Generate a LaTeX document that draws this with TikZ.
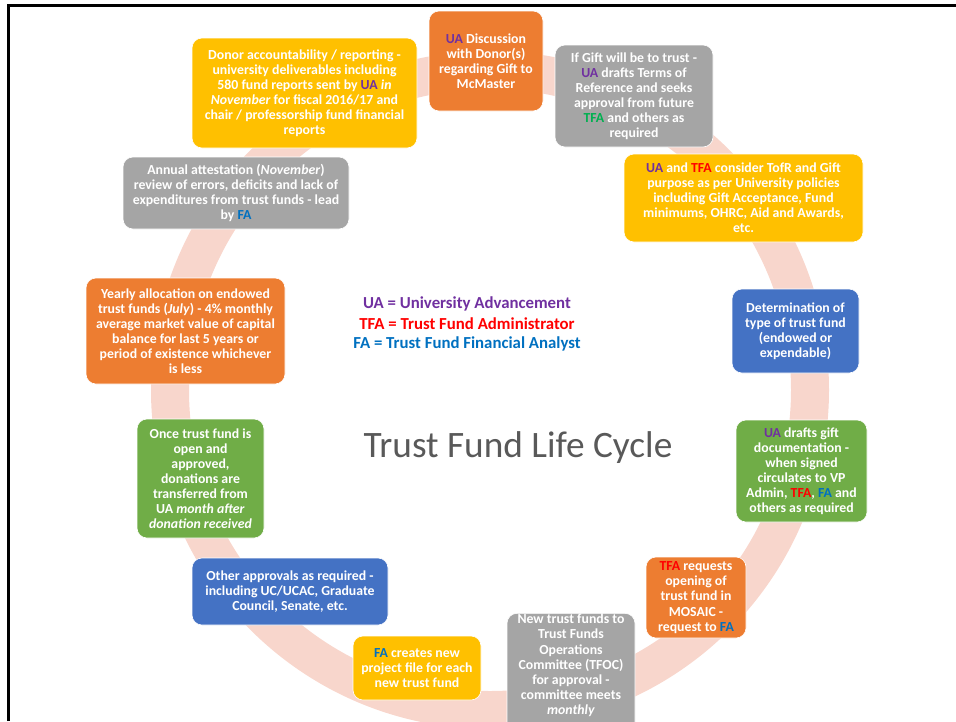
\documentclass[tikz,border=0pt]{standalone}
\usepackage{fontspec}
\setmainfont{Carlito}

\definecolor{ringpink}{HTML}{F8D6CC}
\definecolor{boxorange}{HTML}{ED7D31}
\definecolor{boxyellow}{HTML}{FFC000}
\definecolor{boxgrey}{HTML}{A5A5A5}
\definecolor{boxblue}{HTML}{4472C4}
\definecolor{boxgreen}{HTML}{70AD47}
\definecolor{uapurple}{HTML}{7030A0}
\definecolor{tfared}{HTML}{FF0000}
\definecolor{tfagreen}{HTML}{00B050}
\definecolor{fablue}{HTML}{0070C0}
\definecolor{titlegrey}{HTML}{595959}

% role abbreviations in their colours
\newcommand\kUA{\textcolor{uapurple}{UA}}
\newcommand\kTFA{\textcolor{tfared}{TFA}}
\newcommand\kFA{\textcolor{fablue}{FA}}

\begin{document}
\begin{tikzpicture}[x=1pt,y=-1pt,
  box/.style={rounded corners=10pt, inner sep=0pt, text=white, align=center,
    draw=white, line width=0.6pt,
    font=\fontsize{13.8}{15.1}\selectfont\bfseries},
  size/.style 2 args={minimum width=#1pt, minimum height=#2pt},
  legend/.style={inner sep=0pt, anchor=base, font=\fontsize{16.8}{19}\selectfont\bfseries}]
\useasboundingbox (0,0) rectangle (956,721);
\clip (0,0) rectangle (956,721);

% the cycle ring behind the steps
\draw[ringpink, line width=38pt] (490,390) circle[radius=320pt];

% steps of the cycle
\node[box, fill=boxorange, size={114}{100}] (disc) at (486,61)
  {\kUA{} Discussion\\with Donor(s)\\regarding Gift to\\McMaster};
\node[box, fill=boxgrey, size={158}{102}] (tofr) at (634,96)
  {If Gift will be to trust -\\\kUA{} drafts Terms of\\Reference and seeks\\approval from future\\\textcolor{tfagreen}{TFA} and others as\\required};
\node[box, fill=boxyellow, size={239}{88}] (consider) at (743.5,198)
  {\kUA{} and \kTFA{} consider TofR and Gift\\purpose as per University policies\\including Gift Acceptance, Fund\\minimums, OHRC, Aid and Awards,\\etc.};
\node[box, fill=boxblue, size={127}{84}] (determ) at (795.5,331)
  {Determination of\\type of trust fund\\(endowed or\\expendable)};
\node[box, fill=boxgreen, size={131}{102}] (drafts) at (801.5,471)
  {\kUA{} drafts gift\\documentation -\\when signed\\circulates to VP\\Admin, \kTFA, \kFA{} and\\others as required};
\node[box, fill=boxorange, size={100}{81}] (request) at (696,597.5)
  {\kTFA{} requests\\opening of\\trust fund in\\MOSAIC -\\request to \kFA};
\node[box, fill=boxgrey, size={128}{122}, anchor=north] (newtf) at (571,613)
  {New trust funds to\\Trust Funds\\Operations\\Committee (TFOC)\\for approval -\\committee meets\\\textit{monthly}\\[5pt]};
\node[box, fill=boxyellow, size={128}{64}] (creates) at (417,668)
  {\kFA{} creates new\\project file for each\\new trust fund};
\node[box, fill=boxblue, size={196}{67}] (other) at (290,591.5)
  {Other approvals as required -\\including UC/UCAC, Graduate\\Council, Senate, etc.};
\node[box, fill=boxgreen, size={127}{119}] (once) at (200.5,478.5)
  {Once trust fund is\\open and\\approved,\\donations are\\transferred from\\UA \textit{month after}\\\textit{donation received}};
\node[box, fill=boxorange, size={199}{106}] (yearly) at (185.5,331)
  {Yearly allocation on endowed\\trust funds (\textit{July}) - 4\% monthly\\average market value of capital\\balance for last 5 years or\\period of existence whichever\\is less};
\node[box, fill=boxgrey, size={226}{72}] (attest) at (236,193)
  {Annual attestation (\textit{November})\\review of errors, deficits and lack of\\expenditures from trust funds - lead\\by \kFA};
\node[box, fill=boxyellow, size={225}{110}] (donor) at (304.5,93)
  {Donor accountability / reporting -\\university deliverables including\\580 fund reports sent by \kUA{} \textit{in}\\\textit{November} for fiscal 2016/17 and\\chair / professorship fund financial\\reports};

% legend of abbreviations
\node[legend, text=uapurple] (lgua) at (467,308) {UA = University Advancement};
\node[legend, text=tfared] (lgtfa) at (467,329) {TFA = Trust Fund Administrator};
\node[legend, text=fablue] (lgfa) at (467,348) {FA = Trust Fund Financial Analyst};

% title
\node[inner sep=0pt, text=titlegrey, font=\fontsize{37.3}{42}\selectfont] (title) at (518,448) {Trust Fund Life Cycle};

% page frame
\draw[line width=3pt] (8,721) -- (8,5) -- (956,5);
\end{tikzpicture}
\end{document}
